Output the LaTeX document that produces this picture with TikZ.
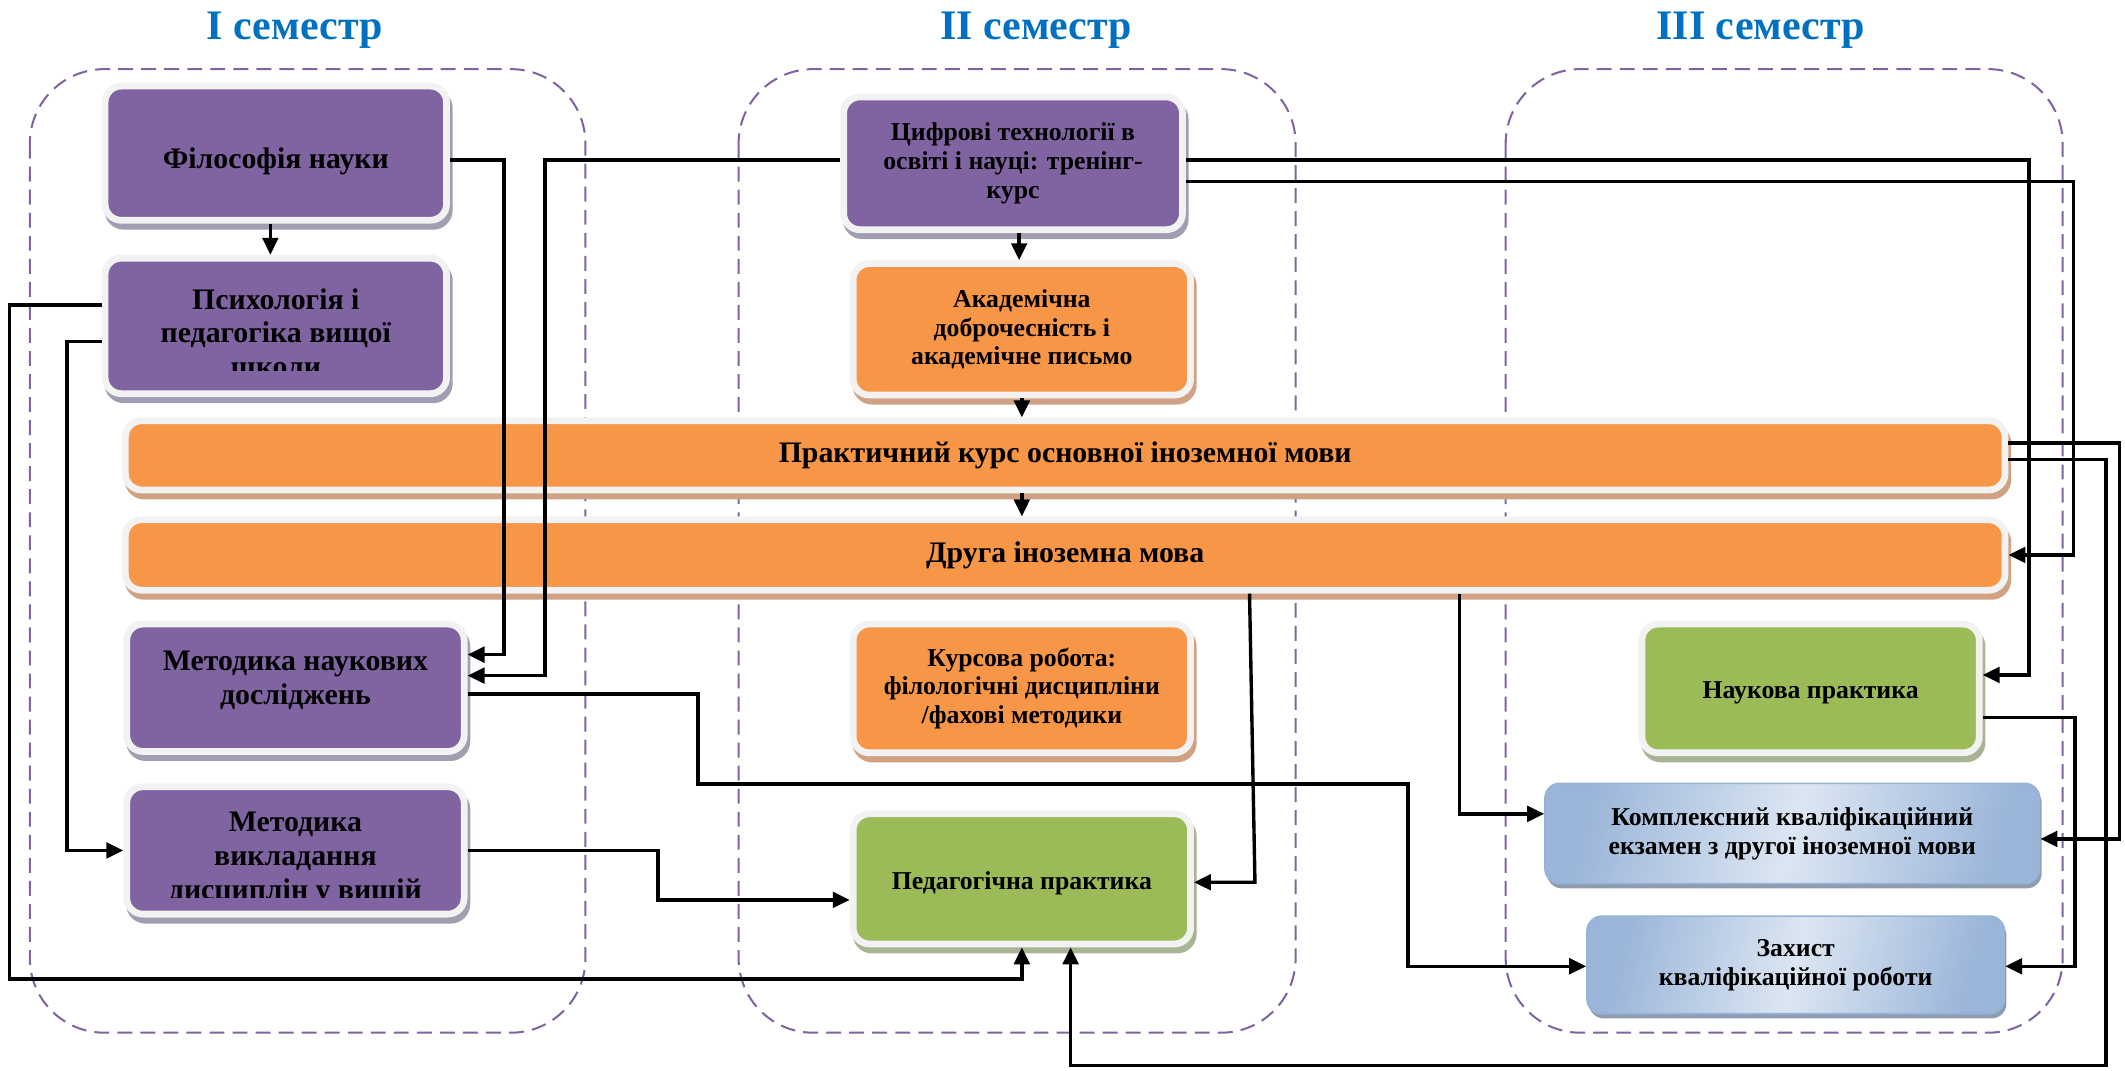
\documentclass[tikz,border=0pt]{standalone}
\usepackage{fontspec}
\setmainfont{Liberation Serif}
\usetikzlibrary{arrows.meta,shadows}
\definecolor{purp}{HTML}{8064A2}
\definecolor{orng}{HTML}{F79646}
\definecolor{grn}{HTML}{9BBB59}
\definecolor{rim}{HTML}{F2F2F2}
\definecolor{purpsh}{HTML}{A39DB1}
\definecolor{orngsh}{HTML}{D0A283}
\definecolor{grnsh}{HTML}{A8B493}
\definecolor{bluesh}{HTML}{8F9CB0}
\definecolor{blueL}{HTML}{DCE6F2}
\definecolor{blueD}{HTML}{9AB5D9}
\definecolor{blueedge}{HTML}{95B3D7}
\definecolor{ttl}{HTML}{0070C0}
\definecolor{dash}{HTML}{8064A2}
\begin{document}
\begin{tikzpicture}[x=1pt,y=-1pt,
  boxtext/.style={font=\fontsize{19}{21.3}\selectfont\bfseries, align=center, text=black, inner sep=0pt},
  bigtext/.style={font=\fontsize{22}{25}\selectfont\bfseries, align=center, text=black, inner sep=0pt},
  basebox/.style={boxtext, rounded corners=12pt, draw=rim, line width=5pt},
  pbox/.style={basebox, fill=purp, drop shadow={shadow xshift=2pt, shadow yshift=-4.5pt, fill=purpsh, draw=purpsh, line width=5pt, opacity=1}},
  obox/.style={basebox, fill=orng, drop shadow={shadow xshift=2pt, shadow yshift=-4.5pt, fill=orngsh, draw=orngsh, line width=5pt, opacity=1}},
  gbox/.style={basebox, fill=grn, drop shadow={shadow xshift=2pt, shadow yshift=-4.5pt, fill=grnsh, draw=grnsh, line width=5pt, opacity=1}},
  bbox/.style={boxtext, rounded corners=11pt, draw=blueedge, line width=1.2pt, left color=blueD, right color=blueD, middle color=blueL, shading angle=76, drop shadow={shadow xshift=1.5pt, shadow yshift=-3.5pt, fill=bluesh, opacity=1}},
  cont/.style={draw=dash, line width=1.5pt, dash pattern=on 11pt off 6pt, rounded corners=55pt},
  sem/.style={font=\fontsize{31}{36}\selectfont\bfseries, text=ttl, anchor=base},
  conn/.style={draw=black, line width=2.5pt, -{Triangle[length=12.5pt,width=11.5pt]}},
]
\useasboundingbox (0,0) rectangle (1568,790);
% semester containers
\draw[cont] (22,51) rectangle (432,762);
\draw[cont] (545,51) rectangle (956,762);
\draw[cont] (1111,51) rectangle (1522,762);
% titles
\node[sem] (t1) at (217.5,29.5) {I семестр};
\node[sem] (t2) at (764.5,29.5) {II семестр};
\node[sem] (t3) at (1299,29.5) {III семестр};
% boxes
\node[pbox, minimum width=252pt, minimum height=99pt,
  path picture={\node[bigtext] (philtext) at ([yshift=-6pt]path picture bounding box.center) {Філософія науки};}] (phil) at (203.5,113) {};
\node[pbox, minimum width=252pt, minimum height=100pt,
  path picture={\clip ([yshift=17pt]path picture bounding box.south west) rectangle (path picture bounding box.north east);
    \node[bigtext] (psytext) at ([yshift=-5pt]path picture bounding box.center) {Психологія і\\педагогіка вищої\\школи};}] (psy) at (203.5,240.5) {};
\node[pbox, minimum width=250pt, minimum height=98pt] (dig) at (747.5,120.5) {Цифрові технології в\\освіті і науці: тренінг-\\курс};
\node[obox, minimum width=249pt, minimum height=97pt] (acad) at (754,243) {Академічна\\доброчесність і\\академічне письмо};
\node[obox, bigtext, minimum width=1387pt, minimum height=51pt] (prac) at (786,336) {Практичний курс основної іноземної мови};
\node[obox, bigtext, minimum width=1387pt, minimum height=52pt] (second) at (786,409.5) {Друга іноземна мова};
\node[pbox, minimum width=249pt, minimum height=94pt,
  path picture={\node[bigtext] (mndtext) at ([yshift=5.5pt]path picture bounding box.center) {Методика наукових\\досліджень};}] (mnd) at (218,507.5) {};
\node[pbox, minimum width=249pt, minimum height=94pt,
  path picture={\clip ([yshift=12pt]path picture bounding box.south west) rectangle (path picture bounding box.north east);
    \node[bigtext] (mvdtext) at ([yshift=-6.5pt]path picture bounding box.center) {Методика\\викладання\\дисциплін у вищій};}] (mvd) at (218,627.5) {};
\node[obox, minimum width=249pt, minimum height=95pt] (kurs) at (754,508) {Курсова робота:\\філологічні дисципліни\\/фахові методики};
\node[gbox, minimum width=249pt, minimum height=96pt,
  path picture={\node[boxtext] (pedtext) at ([yshift=-3pt]path picture bounding box.center) {Педагогічна практика};}] (ped) at (754,648.5) {};
\node[gbox, minimum width=249pt, minimum height=95pt,
  path picture={\node[boxtext] (nauktext) at ([yshift=-3pt]path picture bounding box.center) {Наукова практика};}] (nauk) at (1336,508) {};
\node[bbox, minimum width=365pt, minimum height=74pt] (kompl) at (1322.5,615) {Комплексний кваліфікаційний\\екзамен з другої іноземної мови};
\node[bbox, minimum width=308pt, minimum height=72pt] (zah) at (1325,712) {Захист\\кваліфікаційної роботи};
% connectors
\draw[conn] ([xshift=-4pt]phil.south) -- ([xshift=-4pt]psy.north);
\draw[conn] ([yshift=-5pt]phil.east) -| (372,300) |- ([yshift=24.5pt]mnd.east);
\draw[conn] ([yshift=2.5pt]dig.west) -| (402,300) |- ([yshift=9pt]mnd.east);
\draw[conn] ([xshift=4.5pt]dig.south) -- ([xshift=-2pt]acad.north);
\draw[conn] (acad.south) -- (acad.south |- prac.north);
\draw[conn] (prac.south -| acad) -- (second.north -| acad);
\draw[conn] ([yshift=2.5pt]dig.east) -| (1497,300) |- ([yshift=10pt]nauk.east);
\draw[conn] ([yshift=-13.5pt]dig.east) -| (1530,300) |- (second.east);
\draw[conn] ([yshift=9pt]prac.east) -| (1564,500) |- ([yshift=-4pt]kompl.east);
\draw[conn] ([yshift=-3pt]prac.east) -| (1554,786) -| ([xshift=36pt]ped.south);
\draw[conn] ([yshift=15.5pt]psy.west) -| (7,722.5) -| (ped.south);
\draw[conn] ([yshift=-11.5pt]psy.west) -| (49.5,500) |- (mvd.west);
\draw[conn] ([yshift=-4.5pt]mnd.east) -| (515,545) |- (1039,578.5) |- ([yshift=-1pt]zah.west);
\draw[conn] (mvd.east) -| (485.5,645) |- ([yshift=-15.5pt]ped.west);
\draw[conn] ([xshift=136pt]second.south) -- (926,651) -- ([yshift=-2.5pt]ped.east);
\draw[conn] ([xshift=291pt]second.south) |- ([yshift=14.5pt]kompl.west);
\draw[conn] ([yshift=-21.5pt]nauk.east) -| (1531,620) |- ([yshift=-1pt]zah.east);
\end{tikzpicture}
\end{document}
